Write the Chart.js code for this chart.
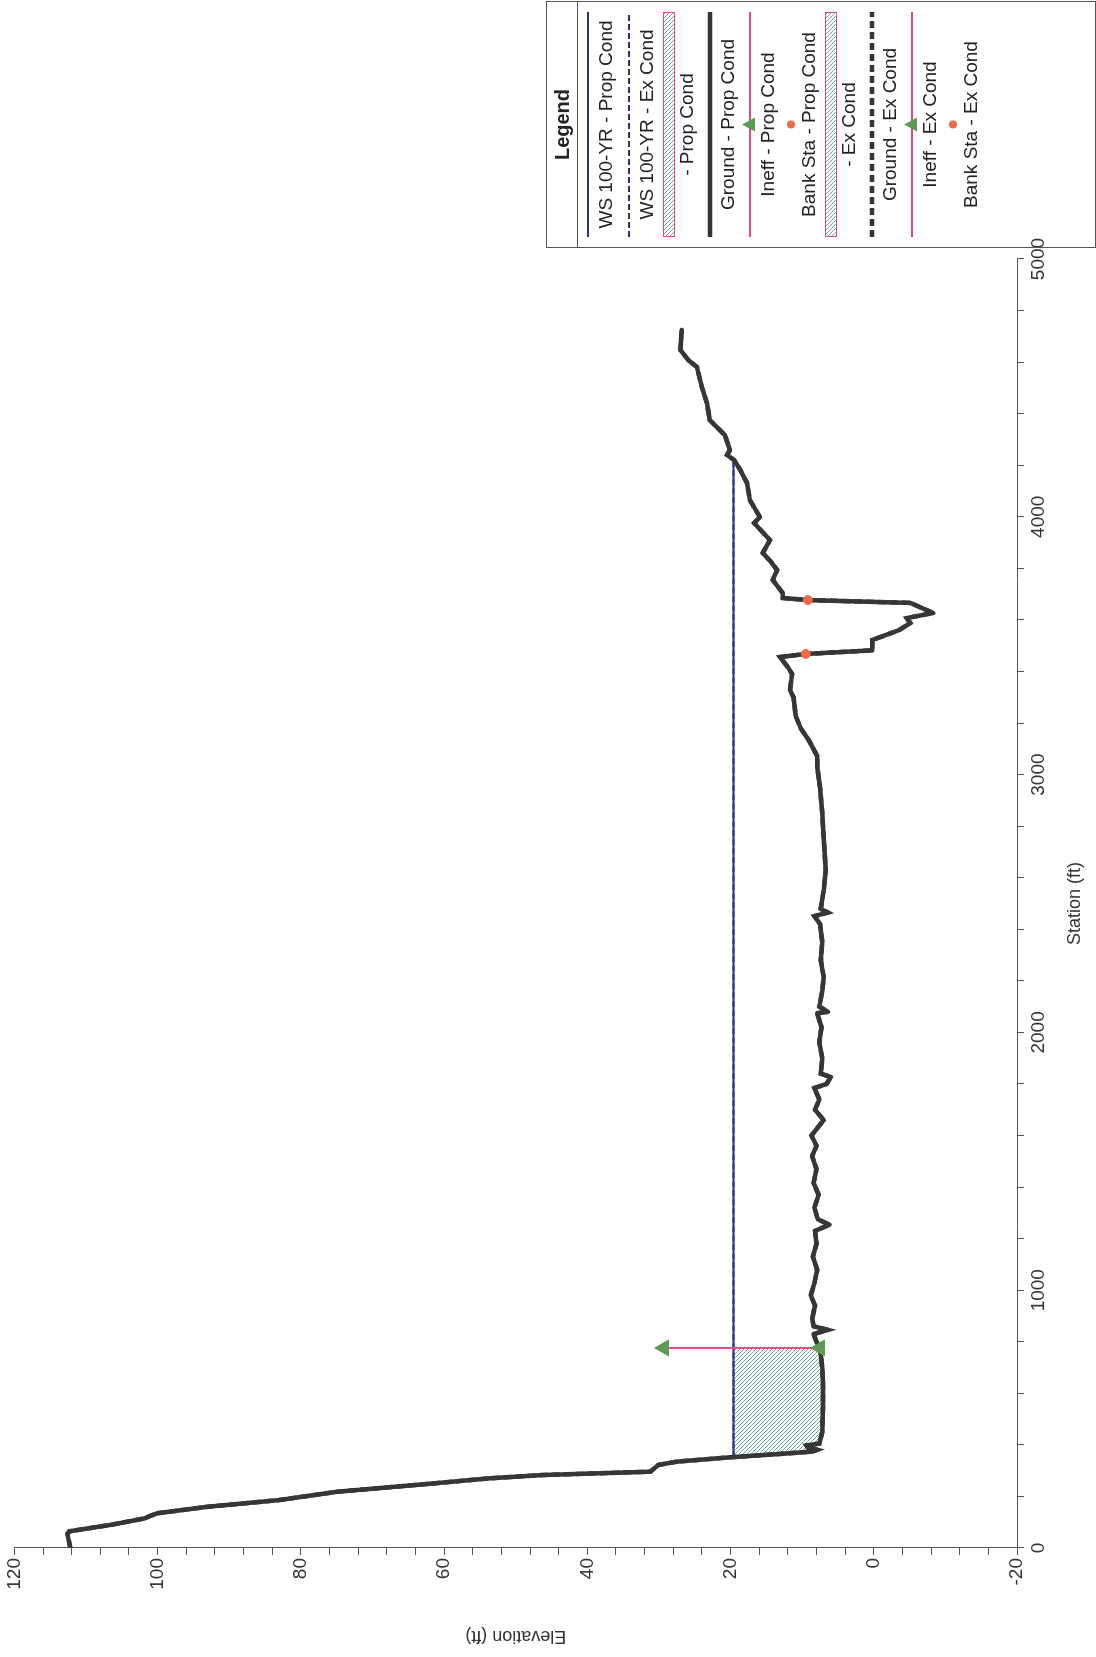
<!DOCTYPE html>
<html>
<head>
<meta charset="utf-8">
<script src="https://cdn.jsdelivr.net/npm/chart.js@4.4.1/dist/chart.umd.min.js"></script>
<style>
  html, body { margin:0; padding:0; background:#fff; }
  body { width:1096px; height:1657px; overflow:hidden; position:relative; }
  #wrap { position:absolute; left:0; top:0; width:1657px; height:1096px;
          transform-origin:0 0; transform:translate(0,1657px) rotate(-90deg); background:#fff; }
  #c { position:absolute; left:0; top:0; }
  #legend { position:absolute; left:1409px; top:546px; width:245px; height:548px;
            border:1px solid #555; font-family:'Liberation Sans', Arial, sans-serif; font-size:19px; color:#222; }
  #legend .ttl { position:absolute; left:0; top:0; width:245px; height:30px; line-height:30px; text-align:center;
                 font-weight:bold; font-size:20px; border-bottom:1px solid #555; }
  #legend .txt { position:absolute; left:0; width:245px; text-align:center; line-height:20px; white-space:nowrap; }
  #legend svg { position:absolute; left:10px; }
</style>
</head>
<body>
<div id="wrap">
  <canvas id="c" width="1657" height="1096" style="width:1657px;height:1096px"></canvas>
  <div id="legend"></div>
</div>
<script>
// ---------------- data ----------------
const groundStation = [0,55,65,90,115,125,135,160,186,218,251,270,283,296,310,322,335,352,365,374,381,390,398,405,450,550,640,700,776,800,830,846,860,890,940,980,1027,1080,1130,1180,1230,1254,1275,1320,1370,1416,1470,1520,1560,1600,1660,1700,1740,1784,1800,1827,1840,1900,1960,2020,2075,2080,2100,2160,2215,2280,2350,2420,2451,2465,2479,2550,2630,2720,2800,2851,2950,3030,3072,3130,3180,3227,3300,3328,3390,3417,3456,3468,3482,3522,3560,3588,3607,3627,3666,3677,3685,3704,3755,3794,3830,3860,3910,3976,3999,4065,4131,4180,4220,4240,4259,4317,4375,4441,4503,4581,4608,4647,4700,4725];
const groundElev = [112.2,112.6,112.3,106.5,101.8,101.0,100.0,93.0,83.0,75.0,61.3,53.8,46.3,31.2,30.6,30.1,27.5,20.0,13.0,8.6,7.9,9.2,9.4,7.6,7.2,7.1,7.1,7.2,7.5,8.0,8.4,6.4,8.4,8.6,8.2,8.8,8.3,7.9,8.5,8.0,8.2,6.2,7.8,8.3,7.7,8.4,8.0,8.6,8.0,8.7,7.0,8.2,7.6,8.3,6.6,6.0,7.4,7.2,7.6,7.3,7.9,6.4,7.6,7.2,7.0,7.4,7.2,7.5,8.3,6.4,7.4,7.0,6.7,6.9,7.1,7.2,7.5,7.9,7.9,9.0,10.2,10.9,11.2,11.7,11.4,12.0,13.1,9.5,0.2,0.2,-3.5,-5.1,-4.6,-8.3,-5.1,9.2,12.7,12.7,14.1,13.5,14.5,15.5,14.5,16.7,15.9,17.3,17.7,18.6,19.5,20.5,20.1,20.8,22.9,23.3,24.0,24.7,25.9,27.0,26.9,26.8];
const wsStation = [352, 4220];
const wsElev = [19.6, 19.6];
const ineffStation = [776, 776];
const ineffElev = [7.5, 29.3];
const bankStation = [3468, 3677];
const bankElev = [9.5, 9.2];
const stationLabels = [0, 1000, 2000, 3000, 4000, 5000];
const elevationLabels = [-20, 0, 20, 40, 60, 80, 100, 120];
const legendLabels = ['WS 100-YR - Prop Cond','WS 100-YR - Ex Cond','- Prop Cond','Ground - Prop Cond','Ineff - Prop Cond','Bank Sta - Prop Cond','- Ex Cond','Ground - Ex Cond','Ineff - Ex Cond','Bank Sta - Ex Cond'];
const legendKinds = ['ws','wsEx','hatch','ground','ineff','bank','hatch','groundEx','ineff','bank'];

// ---------------- helpers ----------------
const pts = (xs, ys) => xs.map((x, i) => ({x, y: ys[i]}));
const groundPts = pts(groundStation, groundElev);
const wsPts = pts(wsStation, wsElev);
const ineffPts = pts(ineffStation, ineffElev);
const bankPts = pts(bankStation, bankElev);
// ineffective area polygon: water surface from left WS edge to ineff station, back along ground
const hatchPts = [{x: wsStation[0], y: wsElev[0]}, {x: ineffStation[0], y: wsElev[0]}];
for (let i = groundStation.length - 1; i >= 0; i--) {
  if (groundStation[i] >= wsStation[0] && groundStation[i] <= ineffStation[0]) hatchPts.push({x: groundStation[i], y: groundElev[i]});
}

const HATCH = '#4fa887', PINK = '#e8457f', TRI = '#5e9a55', BANK = '#f0694a', BLUE = '#2a2f96', GROUND = '#363636';

function makeHatch() {
  const n = 4;
  const c = document.createElement('canvas'); c.width = n; c.height = n;
  const g = c.getContext('2d');
  g.fillStyle = '#fff'; g.fillRect(0, 0, n, n);
  g.strokeStyle = HATCH; g.lineWidth = 0.9;
  g.beginPath(); g.moveTo(0, 0); g.lineTo(n, n); g.moveTo(-1, n - 1); g.lineTo(1, n + 1); g.moveTo(n - 1, -1); g.lineTo(n + 1, 1); g.stroke();
  return g.createPattern(c, 'repeat');
}

Chart.defaults.font.family = "'Liberation Sans', Arial, sans-serif";
Chart.defaults.color = '#333';

const axisGrid = { drawOnChartArea: false, drawTicks: true, tickLength: 7, color: '#555', tickColor: '#555' };

new Chart(document.getElementById('c'), {
  type: 'line',
  data: {
    datasets: [
      { label: 'Bank Sta - Prop Cond', data: bankPts, showLine: false, pointStyle: 'circle', pointRadius: 4.5,
        pointBackgroundColor: BANK, pointBorderColor: BANK, order: 0 },
      { label: 'Ineff - Prop Cond', data: ineffPts, borderColor: PINK, borderWidth: 2, pointStyle: 'triangle', pointRadius: 8,
        pointBackgroundColor: TRI, pointBorderColor: TRI, order: 1 },
      { label: 'Ground - Prop Cond', data: groundPts, borderColor: GROUND, borderWidth: 4.5, pointRadius: 0, order: 2,
        borderJoinStyle: 'round', borderCapStyle: 'round' },
      { label: 'Ground - Ex Cond', data: groundPts, borderColor: GROUND, borderWidth: 4.5, borderDash: [8, 4], pointRadius: 0, order: 3 },
      { label: 'WS 100-YR - Prop Cond', data: wsPts, borderColor: BLUE, borderWidth: 2, pointRadius: 0, order: 4 },
      { label: 'WS 100-YR - Ex Cond', data: wsPts, borderColor: BLUE, borderWidth: 2, borderDash: [6, 3], pointRadius: 0, order: 5 },
      { label: 'Ineff area', data: hatchPts, fill: 'shape', backgroundColor: makeHatch(), borderColor: 'rgba(0,0,0,0)',
        borderWidth: 0, pointRadius: 0, order: 6 }
    ]
  },
  options: {
    responsive: false, animation: false, devicePixelRatio: 1,
    layout: { padding: { top: 14, right: 259, left: 0, bottom: 0 } },
    plugins: { legend: { display: false }, tooltip: { enabled: false } },
    scales: {
      x: {
        type: 'linear', position: 'bottom', min: 0, max: 5000,
        ticks: { stepSize: 200, autoSkip: false, maxRotation: 0, minRotation: 0, padding: 3,
                 font: { size: 19 }, color: '#333',
                 callback: v => stationLabels.includes(v) ? String(v) : '' },
        grid: axisGrid,
        border: { display: true, color: '#555', width: 1 },
        title: { display: true, text: 'Station (ft)', font: { size: 18 }, color: '#333', padding: { top: 0, bottom: 10 } },
        afterFit: s => { s.height = 79; }
      },
      y: {
        type: 'linear', position: 'left', min: -20, max: 120,
        ticks: { stepSize: 4, autoSkip: false, padding: 3, font: { size: 19 }, color: '#333',
                 callback: v => elevationLabels.includes(v) ? String(v) : '' },
        grid: axisGrid,
        border: { display: true, color: '#555', width: 1 },
        title: { display: true, text: 'Elevation (ft)', font: { size: 18 }, color: '#333', padding: { top: 10, bottom: 0 } },
        afterFit: s => { s.width = 109; }
      }
    }
  }
});

// ---------------- legend ----------------
(function buildLegend() {
  const L = document.getElementById('legend');
  const ns = 'http://www.w3.org/2000/svg';
  const ttl = document.createElement('div'); ttl.className = 'ttl'; ttl.textContent = 'Legend'; L.appendChild(ttl);
  const W = 225, H = 16, mid = H / 2;
  legendLabels.forEach((label, i) => {
    const symY = 41 + i * 40.5;
    const kind = legendKinds[i];
    const svg = document.createElementNS(ns, 'svg');
    svg.setAttribute('width', W); svg.setAttribute('height', H);
    svg.style.top = (symY - mid) + 'px';
    let html = '<defs><pattern id="hp' + i + '" width="4" height="4" patternUnits="userSpaceOnUse">' +
      '<path d="M0,0 L4,4 M-1,3 L1,5 M3,-1 L5,1" stroke="' + HATCH + '" stroke-width="0.9"/></pattern></defs>';
    if (kind === 'ws') html += '<line x1="0" x2="' + W + '" y1="' + mid + '" y2="' + mid + '" stroke="' + BLUE + '" stroke-width="2"/>';
    if (kind === 'wsEx') html += '<line x1="0" x2="' + W + '" y1="' + mid + '" y2="' + mid + '" stroke="' + BLUE + '" stroke-width="2" stroke-dasharray="6 3"/>';
    if (kind === 'ground') html += '<line x1="0" x2="' + W + '" y1="' + mid + '" y2="' + mid + '" stroke="' + GROUND + '" stroke-width="4.5" stroke-linecap="round"/>';
    if (kind === 'groundEx') html += '<line x1="0" x2="' + W + '" y1="' + mid + '" y2="' + mid + '" stroke="' + GROUND + '" stroke-width="4.5" stroke-dasharray="7 4"/>';
    if (kind === 'hatch') html += '<rect x="0.5" y="2.5" width="' + (W - 1) + '" height="11" fill="url(#hp' + i + ')" stroke="' + PINK + '" stroke-width="1"/>';
    if (kind === 'ineff') html += '<line x1="0" x2="' + W + '" y1="' + mid + '" y2="' + mid + '" stroke="' + PINK + '" stroke-width="2"/>' +
      '<polygon points="' + (W/2) + ',' + (mid - 8) + ' ' + (W/2 - 7) + ',' + (mid + 5) + ' ' + (W/2 + 7) + ',' + (mid + 5) + '" fill="' + TRI + '"/>';
    if (kind === 'bank') html += '<circle cx="' + (W/2) + '" cy="' + mid + '" r="4" fill="' + BANK + '"/>';
    svg.innerHTML = html;
    L.appendChild(svg);
    const t = document.createElement('div'); t.className = 'txt'; t.textContent = label;
    t.style.top = (symY + 18 - 10) + 'px';
    L.appendChild(t);
  });
})();
</script>
</body>
</html>
